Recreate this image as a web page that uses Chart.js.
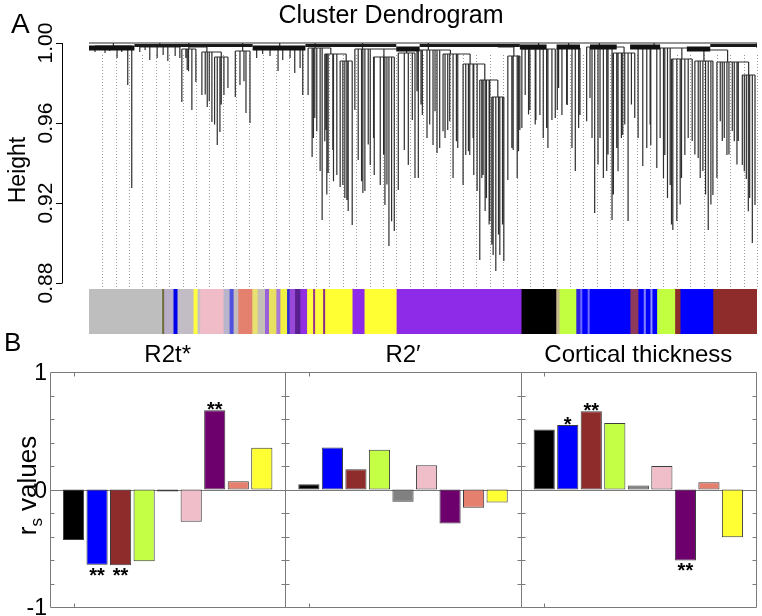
<!DOCTYPE html>
<html>
<head>
<meta charset="utf-8">
<script src="https://cdn.jsdelivr.net/npm/chart.js@4.4.1/dist/chart.umd.min.js"></script>
<style>
  body { margin: 0; background: #fff; width: 762px; height: 616px; position: relative; overflow: hidden; }
  canvas { position: absolute; }
  #dendro { left: 0; top: 0; }
  #colors { left: 89px; top: 289px; }
  #bars { left: 0; top: 322px; }
</style>
</head>
<body>
<canvas id="dendro" width="762" height="312"></canvas>
<canvas id="colors" width="668" height="45"></canvas>
<canvas id="bars" width="762" height="294"></canvas>
<script>
const FONT = "'Liberation Sans', Arial, sans-serif";

// ---------------- panel A : dendrogram ----------------
// leaf position in % of all genes, heights from the picture
// [stem top, join height, [[leaf %, lowest height], ...]]
const dendroClusters = [
  [1.000, 0.9985, [[0.9, 0.9955], [1.6, 0.9965], [2.4, 0.995], [3.1, 0.996], [4.2, 0.9925], [4.9, 0.9955], [5.8, 0.979], [6.4, 0.9275]]],
  [1.000, 0.998, [[7.6, 0.9955], [8.4, 0.9965], [9.1, 0.9915], [10.2, 0.9925], [11.1, 0.994], [11.8, 0.991], [12.9, 0.9935], [13.6, 0.9925]]],
  [1.000, 0.997, [[13.9, 0.9705], [14.5, 0.9925], [14.7, 0.9865], [14.9, 0.9859], [15.4, 0.9665], [16.0, 0.9805]]],
  [0.998, 0.9955, [[16.9, 0.974], [17.4, 0.9742], [17.7, 0.968], [18.0, 0.9709], [18.4, 0.9605]]],
  [0.9955, 0.993, [[18.8, 0.9592], [19.2, 0.949], [19.6, 0.9555], [19.8, 0.9692], [20.2, 0.974], [20.8, 0.9775]]],
  [1.000, 0.996, [[21.9, 0.973], [22.6, 0.979], [23.2, 0.9809], [23.5, 0.965], [24.1, 0.96]]],
  [1.000, 0.998, [[25.1, 0.9925], [26.0, 0.9945], [27.1, 0.9935], [28.3, 0.986], [29.0, 0.9915], [30.1, 0.9925], [30.8, 0.985], [31.6, 0.9875], [32.0, 0.974]]],
  [1.000, 0.9975, [[32.8, 0.974], [33.4, 0.943], [33.6, 0.9525], [33.8, 0.9625], [34.1, 0.9559], [34.6, 0.936], [34.9, 0.9115]]],
  [0.9975, 0.9945, [[35.3, 0.9509], [35.5, 0.9565], [35.6, 0.9242], [35.8, 0.935], [36.5, 0.9465], [36.6, 0.9309], [37.1, 0.934]]],
  [0.9945, 0.991, [[37.6, 0.928], [38.0, 0.929], [38.3, 0.9225], [38.6, 0.9215], [38.8, 0.916], [39.4, 0.909]]],
  [1.000, 0.997, [[39.8, 0.9665], [40.3, 0.9415], [40.8, 0.9309], [41.0, 0.925], [41.3, 0.926], [41.8, 0.9492], [42.1, 0.939]]],
  [0.997, 0.993, [[42.6, 0.9525], [42.7, 0.934], [43.6, 0.929], [44.1, 0.9442], [44.3, 0.919], [44.6, 0.9292], [44.9, 0.8985], [45.3, 0.9109], [45.7, 0.906]]],
  [0.997, 0.995, [[46.3, 0.9265], [47.2, 0.9465], [47.8, 0.939], [48.4, 0.9615], [48.8, 0.9325]]],
  [1.000, 0.9965, [[49.1, 0.9759], [49.3, 0.9325], [49.7, 0.9692], [49.9, 0.964], [50.6, 0.9525], [51.0, 0.9592], [51.5, 0.949], [51.8, 0.9659], [52.1, 0.945], [52.5, 0.9475]]],
  [0.9965, 0.9945, [[53.0, 0.9559], [53.3, 0.9525], [53.7, 0.9565], [54.0, 0.9609], [54.5, 0.9325], [55.0, 0.9509], [55.2, 0.9475]]],
  [0.9945, 0.9895, [[56.0, 0.929], [56.4, 0.944], [56.8, 0.9459], [57.0, 0.944], [57.5, 0.9525], [57.6, 0.934], [58.1, 0.926]]],
  [0.9895, 0.9815, [[58.5, 0.8915], [58.8, 0.9325], [59.0, 0.934], [59.3, 0.916], [59.5, 0.9225], [59.9, 0.9092], [60.0, 0.911]]],
  [0.9815, 0.973, [[60.3, 0.8992], [60.5, 0.894], [60.9, 0.886], [61.3, 0.9042], [61.5, 0.894], [61.9, 0.9092], [62.1, 0.891]]],
  [0.998, 0.9935, [[62.7, 0.9315], [63.3, 0.9475], [63.5, 0.9465], [64.1, 0.9325], [64.3, 0.9459], [64.5, 0.9565]]],
  [1.000, 0.997, [[64.8, 0.9575], [65.3, 0.974], [65.8, 0.9642], [66.0, 0.9665], [66.8, 0.9592], [66.9, 0.9615], [67.5, 0.964], [68.0, 0.9525], [68.5, 0.9575], [68.7, 0.9475], [69.3, 0.9615], [69.8, 0.9625]]],
  [1.000, 0.9975, [[70.1, 0.9665], [70.3, 0.9775], [70.8, 0.964], [71.5, 0.9692], [71.6, 0.969], [72.3, 0.9475], [72.8, 0.936], [73.3, 0.9575], [73.5, 0.964]]],
  [1.000, 0.998, [[74.5, 0.9609], [75.0, 0.9725], [75.3, 0.9525], [75.7, 0.915], [76.2, 0.9392], [76.5, 0.9525], [77.0, 0.9325], [77.5, 0.936], [77.7, 0.9442], [78.3, 0.9115]]],
  [0.998, 0.995, [[78.5, 0.9242], [79.0, 0.9475], [79.2, 0.9359], [79.7, 0.9525], [79.9, 0.954], [80.2, 0.9592], [80.7, 0.911], [81.2, 0.9692], [81.7, 0.9625]]],
  [1.000, 0.9975, [[82.2, 0.9525], [82.9, 0.9385], [83.5, 0.9475], [84.0, 0.9592], [84.1, 0.949], [85.0, 0.9375], [85.5, 0.9525], [86.0, 0.9325], [86.2, 0.944], [86.6, 0.9225], [87.0, 0.929]]],
  [0.9975, 0.992, [[87.2, 0.9092], [87.4, 0.9065], [88.0, 0.911], [88.5, 0.9192], [88.7, 0.9325], [89.2, 0.944], [89.7, 0.9525], [90.3, 0.951]]],
  [0.9975, 0.991, [[90.7, 0.9442], [91.2, 0.9425], [91.5, 0.9325], [91.9, 0.936], [92.3, 0.9242], [92.7, 0.9065], [93.1, 0.9192], [93.4, 0.924]]],
  [0.9965, 0.9905, [[94.0, 0.9325], [94.5, 0.9609], [94.8, 0.951], [95.1, 0.9525], [95.5, 0.944], [95.8, 0.9442], [96.3, 0.956], [96.6, 0.9509], [97.0, 0.9392], [97.2, 0.951]]],
  [0.9905, 0.984, [[97.8, 0.939], [98.1, 0.9359], [98.4, 0.932], [98.7, 0.9159], [98.9, 0.9225], [99.3, 0.9], [99.7, 0.919]]]
];

// stretches where the tree top is a solid black mass: [from %, to %, height]
const heavyBands = [[0, 6.8, 0.9975], [24.5, 32.4, 0.9975], [46, 49.5, 0.997], [64.5, 68.5, 0.998], [70, 73.5, 0.998], [75, 79, 0.998], [81, 85.5, 0.998], [89.5, 93, 0.997]];
const lightBands = [[6.8, 24.5, 0.9988], [32.4, 46, 0.9988], [49.5, 64.5, 0.9988], [93, 100, 0.9988]];
const rootHeight = 1.0;
const heightTicks = [0.88, 0.92, 0.96, 1.00];

// module colour strip under the tree: [from %, to %, colour]
const colorBarSegments = [
  [0, 10.9, '#BEBEBE'], [10.9, 11.2, '#6E6E3A'], [11.2, 12.6, '#B8AEC8'], [12.6, 13.2, '#0000EE'],
  [13.2, 15.6, '#C2BCC4'], [15.6, 16.2, '#FFFF40'], [16.2, 16.6, '#C8C0C4'], [16.6, 20.1, '#F0BCC8'],
  [20.1, 21.0, '#B8B4CC'], [21.0, 21.6, '#5050E0'], [21.6, 22.3, '#C4BCBC'], [22.3, 24.4, '#E4806E'],
  [24.4, 25.2, '#E8E070'], [25.2, 26.3, '#C4C0B8'], [26.3, 26.9, '#9A60D8'], [26.9, 28.0, '#E8E060'],
  [28.0, 28.6, '#A878D8'], [28.6, 29.6, '#F0F040'], [29.6, 30.0, '#3030D0'], [30.0, 30.8, '#9A48D8'],
  [30.8, 31.6, '#5A2090'], [31.6, 32.6, '#9030E0'], [32.6, 33.5, '#FFFF40'], [33.5, 33.8, '#9A3090'],
  [33.8, 35.0, '#FFFF40'], [35.0, 35.3, '#8A2A8A'], [35.3, 39.4, '#FFFF33'], [39.4, 41.2, '#8E2BE8'],
  [41.2, 46.0, '#FFFF33'], [46.0, 64.7, '#8E2BE8'], [64.7, 69.9, '#000000'], [69.9, 70.4, '#C8B890'],
  [70.4, 72.9, '#C2FF40'], [72.9, 73.5, '#3020E0'], [73.5, 73.8, '#6A6AFF'], [73.8, 74.6, '#0000FF'],
  [74.6, 74.9, '#7070FF'], [74.9, 81.0, '#0000FF'], [81.0, 82.2, '#8E3A5A'], [82.2, 83.0, '#0000FF'],
  [83.0, 83.3, '#8080FF'], [83.3, 84.0, '#0000FF'], [84.0, 84.3, '#9090FF'], [84.3, 85.0, '#0000FF'],
  [85.0, 87.7, '#C2FF40'], [87.7, 88.5, '#8E2B2B'], [88.5, 93.4, '#0000FF'], [93.4, 100, '#8E2B2B']
];

// ---------------- panel B : module correlations ----------------
const moduleNames = ['black', 'blue', 'brown', 'greenyellow', 'grey', 'pink', 'purple', 'salmon', 'yellow'];
const moduleColors = ['#000000', '#0000FF', '#8E2B2B', '#C4FF45', '#808080', '#F0BEC8', '#6E006E', '#E6806E', '#FFFF33'];
const panelTitles = ['R2t*', 'R2\u2032', 'Cortical thickness'];
const r2tValues = [-0.43, -0.64, -0.645, -0.61, -0.017, -0.275, 0.675, 0.07, 0.355];
const r2pValues = [0.045, 0.357, 0.173, 0.338, -0.105, 0.207, -0.29, -0.156, -0.11];
const ctValues = [0.51, 0.55, 0.667, 0.567, 0.034, 0.199, -0.604, 0.062, -0.406];
const r2tStars = ['', '**', '**', '', '', '', '**', '', ''];
const r2pStars = ['', '', '', '', '', '', '', '', ''];
const ctStars = ['', '*', '**', '', '', '', '**', '', ''];
const rsTickLabels = [[1, '1'], [0, '0'], [-1, '-1']];
const rsMinorTicks = [-0.8, -0.6, -0.4, -0.2, 0.2, 0.4, 0.6, 0.8];

//---------------------------------------- dendrogram segments
function dendroSegments() {
  const pts = [];
  const seg = (x1, y1, x2, y2) => pts.push({ x: x1, y: y1 }, { x: x2, y: y2 }, { x: x2, y: null });
  let prevStem = null;
  dendroClusters.forEach(([top, join, leaves]) => {
    const xs = leaves.map(l => l[0]);
    const x1 = Math.min(...xs), x2 = Math.max(...xs);
    const stem = (x1 + x2) / 2;
    seg(x1, join, x2, join);
    seg(stem, top, stem, join);
    if (top < rootHeight && prevStem !== null) seg(prevStem, top, stem, top);
    leaves.forEach(([x, low]) => seg(x, join, x, low));
    prevStem = stem;
  });
  seg(0, rootHeight, 100, rootHeight);
  seg(100, rootHeight, 100, 0.9975);
  return pts;
}

function bandSegments(bands) {
  const pts = [];
  bands.forEach(([a, b, h]) => pts.push({ x: a, y: h }, { x: b, y: h }, { x: b, y: null }));
  return pts;
}

const dendroDecor = {
  id: 'dendroDecor',
  beforeDatasetsDraw(chart) {
    const { ctx, chartArea: a, scales: { x, y } } = chart;
    ctx.save();
    ctx.strokeStyle = '#9a9a9a';
    ctx.lineWidth = 1;
    ctx.setLineDash([1, 2]);
    for (let v = 2; v <= 100; v += 2) {
      const px = Math.round(x.getPixelForValue(v)) + 0.5;
      ctx.beginPath();
      ctx.moveTo(px, y.getPixelForValue(0.994));
      ctx.lineTo(px, a.bottom);
      ctx.stroke();
    }
    ctx.restore();
  },
  afterDraw(chart) {
    const { ctx, scales: { y } } = chart;
    ctx.save();
    ctx.fillStyle = '#000';
    ctx.font = '28px ' + FONT;
    ctx.textAlign = 'left';
    ctx.textBaseline = 'alphabetic';
    ctx.fillText('A', 11, 33);
    ctx.font = '25px ' + FONT;
    ctx.textAlign = 'center';
    ctx.fillText('Cluster Dendrogram', 391, 23);

    // R style axis, set apart from the plot
    ctx.strokeStyle = '#000';
    ctx.lineWidth = 1;
    ctx.beginPath();
    ctx.moveTo(62.5, y.getPixelForValue(heightTicks[heightTicks.length - 1]));
    ctx.lineTo(62.5, y.getPixelForValue(heightTicks[0]));
    heightTicks.forEach(v => {
      const py = Math.round(y.getPixelForValue(v)) + 0.5;
      ctx.moveTo(56, py);
      ctx.lineTo(62.5, py);
    });
    ctx.stroke();
    ctx.font = '21px ' + FONT;
    heightTicks.forEach(v => {
      ctx.save();
      ctx.translate(52, y.getPixelForValue(v));
      ctx.rotate(-Math.PI / 2);
      ctx.fillText(v.toFixed(2), 0, 0);
      ctx.restore();
    });
    ctx.font = '23px ' + FONT;
    ctx.translate(25, 170);
    ctx.rotate(-Math.PI / 2);
    ctx.fillText('Height', 0, 0);
    ctx.restore();
  }
};

new Chart(document.getElementById('dendro'), {
  type: 'line',
  data: {
    datasets: [
      { data: bandSegments(lightBands), borderColor: '#1a1a1a', borderWidth: 3, pointRadius: 0, spanGaps: false },
      { data: bandSegments(heavyBands), borderColor: '#111', borderWidth: 5, pointRadius: 0, spanGaps: false },
      { data: dendroSegments(), borderColor: '#2e2e2e', borderWidth: 1.2, pointRadius: 0, spanGaps: false }
    ]
  },
  options: {
    responsive: false,
    animation: false,
    events: [],
    layout: { padding: { left: 89, right: 5, top: 41, bottom: 23 } },
    scales: {
      x: { type: 'linear', min: 0, max: 100, display: false },
      y: { type: 'linear', min: 0.877, max: 1.001, display: false }
    },
    plugins: { legend: { display: false }, tooltip: { enabled: false } }
  },
  plugins: [dendroDecor]
});

//---------------------------------------- colour strip
new Chart(document.getElementById('colors'), {
  type: 'bar',
  data: {
    labels: ['modules'],
    datasets: colorBarSegments.map(([from, to, col]) => ({
      data: [[from, to]],
      backgroundColor: col,
      borderWidth: 0,
      grouped: false,
      barPercentage: 1,
      categoryPercentage: 1
    }))
  },
  options: {
    indexAxis: 'y',
    responsive: false,
    animation: false,
    events: [],
    layout: { padding: 0 },
    scales: {
      x: { type: 'linear', min: 0, max: 100, display: false },
      y: { display: false }
    },
    plugins: { legend: { display: false }, tooltip: { enabled: false } }
  }
});

//---------------------------------------- bar panels
const allValues = [r2tValues, r2pValues, ctValues];
const allStars = [r2tStars, r2pStars, ctStars];
const barPoints = [];
const barColors = [];
allValues.forEach((vals, p) => {
  vals.forEach((v, i) => {
    barPoints.push({ x: p * 10 + i + 1, y: v });
    barColors.push(moduleColors[i]);
  });
});

const panelDecor = {
  id: 'panelDecor',
  beforeDatasetsDraw(chart) {
    const { ctx, chartArea: a, scales: { y } } = chart;
    const y0 = Math.round(y.getPixelForValue(0)) + 0.5;
    ctx.save();
    ctx.strokeStyle = '#7a7a7a';
    ctx.lineWidth = 1;
    ctx.beginPath();
    ctx.moveTo(a.left, y0);
    ctx.lineTo(a.right, y0);
    ctx.stroke();
    ctx.restore();
  },
  afterDatasetsDraw(chart) {
    const { ctx, chartArea: a, scales: { x, y } } = chart;
    ctx.save();
    ctx.strokeStyle = '#7a7a7a';
    ctx.lineWidth = 1;
    ctx.beginPath();
    const top = Math.round(a.top) + 0.5, bot = Math.round(a.bottom) + 0.5;
    for (let p = 0; p < 3; p++) {
      const xl = Math.round(x.getPixelForValue(p * 10)) + 0.5;
      const xr = Math.round(x.getPixelForValue(p * 10 + 10)) + 0.5;
      ctx.moveTo(xl, top); ctx.lineTo(xr, top);
      ctx.moveTo(xl, bot); ctx.lineTo(xr, bot);
      ctx.moveTo(xl, top); ctx.lineTo(xl, bot);
      ctx.moveTo(xr, top); ctx.lineTo(xr, bot);
      rsMinorTicks.forEach(v => {
        const py = Math.round(y.getPixelForValue(v)) + 0.5;
        ctx.moveTo(xl, py); ctx.lineTo(xl + 4, py);
        ctx.moveTo(xr - 4, py); ctx.lineTo(xr, py);
      });
      const xt = Math.round(x.getPixelForValue(p * 10 + 1)) + 0.5;
      ctx.moveTo(xt, top); ctx.lineTo(xt, top + 4);
      ctx.moveTo(xt, bot - 4); ctx.lineTo(xt, bot);
    }
    ctx.stroke();

    ctx.fillStyle = '#000';
    ctx.font = '23px ' + FONT;
    ctx.textAlign = 'right';
    ctx.textBaseline = 'middle';
    rsTickLabels.forEach(([v, t]) => ctx.fillText(t, a.left - 3, y.getPixelForValue(v) + 2));

    ctx.textAlign = 'center';
    ctx.textBaseline = 'alphabetic';
    ctx.font = '24px ' + FONT;
    panelTitles.forEach((t, p) => ctx.fillText(t, x.getPixelForValue(p * 10 + 5), a.top - 10));

    ctx.font = '26px ' + FONT;
    ctx.textAlign = 'left';
    ctx.fillText('B', 4, 29);

    // significance marks
    ctx.font = 'bold 20px ' + FONT;
    ctx.textAlign = 'center';
    allStars.forEach((stars, p) => {
      stars.forEach((s, i) => {
        if (!s) return;
        const v = allValues[p][i];
        const px = x.getPixelForValue(p * 10 + i + 1);
        const py = y.getPixelForValue(v);
        ctx.fillText(s, px, v < 0 ? py + 17 : py + 6);
      });
    });

    // r_s values
    ctx.save();
    ctx.translate(36, y.getPixelForValue(0) - 4);
    ctx.rotate(-Math.PI / 2);
    ctx.font = '26px ' + FONT;
    const wr = ctx.measureText('r').width;
    ctx.font = '17px ' + FONT;
    const ws = ctx.measureText('s').width;
    ctx.font = '26px ' + FONT;
    const wv = ctx.measureText(' values').width;
    let cx = -(wr + ws + wv) / 2;
    ctx.textAlign = 'left';
    ctx.fillText('r', cx, 0);
    cx += wr;
    ctx.font = '17px ' + FONT;
    ctx.fillText('s', cx, 6);
    cx += ws;
    ctx.font = '26px ' + FONT;
    ctx.fillText(' values', cx, 0);
    ctx.restore();
    ctx.restore();
  }
};

new Chart(document.getElementById('bars'), {
  type: 'bar',
  data: {
    datasets: [{
      data: barPoints,
      backgroundColor: barColors,
      borderColor: '#3c3c3c',
      borderWidth: 1,
      borderSkipped: false,
      barPercentage: 0.9,
      categoryPercentage: 1
    }]
  },
  options: {
    responsive: false,
    animation: false,
    events: [],
    layout: { padding: { left: 50, right: 6, top: 50, bottom: 9 } },
    scales: {
      x: { type: 'linear', min: 0, max: 30, offset: false, display: false },
      y: { type: 'linear', min: -1, max: 1, display: false }
    },
    plugins: { legend: { display: false }, tooltip: { enabled: false } }
  },
  plugins: [panelDecor]
});
</script>
</body>
</html>
